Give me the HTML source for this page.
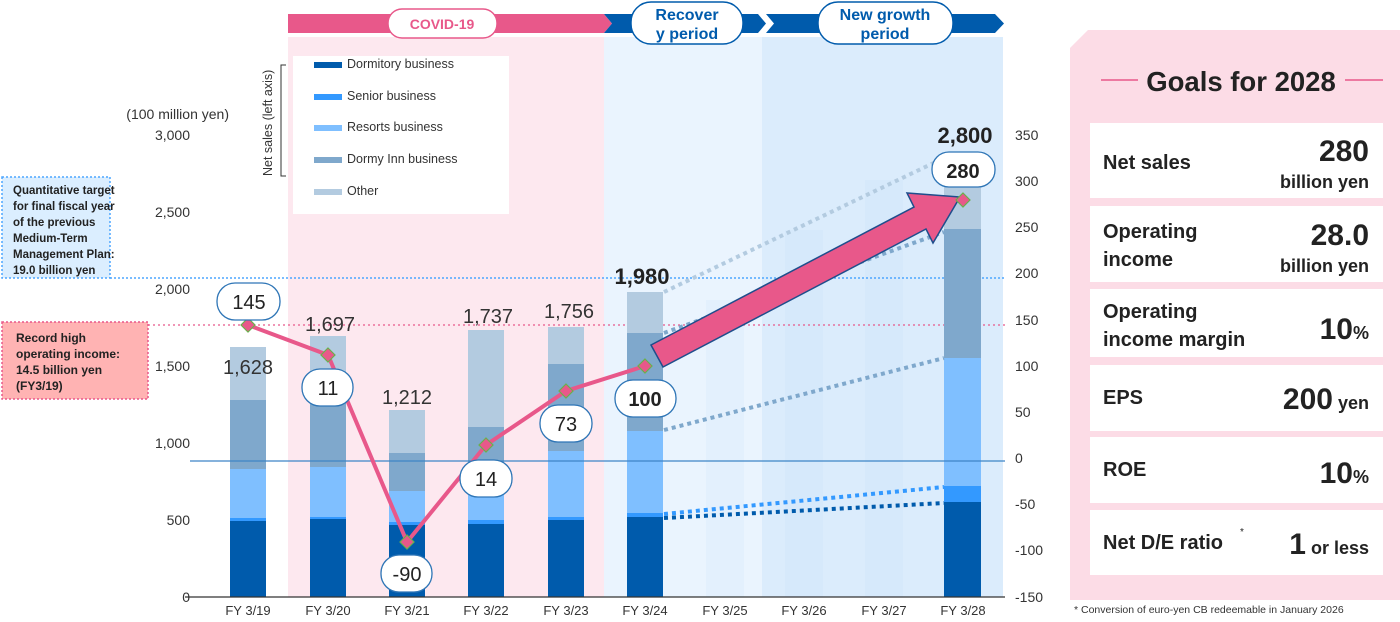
<!DOCTYPE html>
<html><head><meta charset="utf-8"><style>
html,body{margin:0;padding:0;background:#fff;}
svg{display:block;font-family:"Liberation Sans",sans-serif;}
</style></head><body>
<svg width="1400" height="622" viewBox="0 0 1400 622" xmlns="http://www.w3.org/2000/svg">
<rect x="288" y="37" width="316" height="560" fill="#fde8ef"/>
<rect x="604" y="37" width="158" height="560" fill="#eaf4fe"/>
<rect x="762" y="37" width="241" height="560" fill="#dbecfc"/>
<rect x="706" y="300" width="38" height="297" fill="#e3f0fd"/>
<rect x="785" y="230" width="38" height="367" fill="#d6e9fb"/>
<rect x="865" y="180" width="38" height="417" fill="#d6e9fb"/>
<polygon points="288,14 604,14 612,23.5 604,33 288,33" fill="#e8588a"/>
<polygon points="604,14 758,14 766,23.5 758,33 604,33 612,23.5" fill="#005bac"/>
<polygon points="766,14 995,14 1004,23.5 995,33 766,33 774,23.5" fill="#005bac"/>
<rect x="388" y="9" width="109" height="29" rx="14" fill="#fff" stroke="#e8588a" stroke-width="1.5"/>
<text x="442" y="29" text-anchor="middle" font-size="14" font-weight="bold" fill="#e8588a">COVID-19</text>
<rect x="631" y="2" width="112" height="42" rx="20" fill="#fff" stroke="#005bac" stroke-width="1.5"/>
<text x="687" y="20" text-anchor="middle" font-size="16" font-weight="bold" fill="#005bac">Recover</text>
<text x="687" y="39" text-anchor="middle" font-size="16" font-weight="bold" fill="#005bac">y period</text>
<rect x="818" y="2" width="135" height="42" rx="20" fill="#fff" stroke="#005bac" stroke-width="1.5"/>
<text x="885" y="20" text-anchor="middle" font-size="16" font-weight="bold" fill="#005bac">New growth</text>
<text x="885" y="39" text-anchor="middle" font-size="16" font-weight="bold" fill="#005bac">period</text>
<rect x="293" y="56" width="216" height="158" fill="#fff"/>
<g font-size="12.5" fill="#333">
<rect x="314" y="62" width="28" height="6" fill="#005bac"/><text x="347" y="68">Dormitory business</text>
<rect x="314" y="94" width="28" height="6" fill="#3399ff"/><text x="347" y="100">Senior business</text>
<rect x="314" y="125" width="28" height="6" fill="#7fbfff"/><text x="347" y="131">Resorts business</text>
<rect x="314" y="157" width="28" height="6" fill="#7fa8cc"/><text x="347" y="163">Dormy Inn business</text>
<rect x="314" y="189" width="28" height="6" fill="#b3cbe0"/><text x="347" y="195">Other</text>
</g>
<path d="M286,65 H281 V176 H286" fill="none" stroke="#333" stroke-width="1"/>
<text transform="translate(272,176) rotate(-90)" font-size="12.5" fill="#333">Net sales (left axis)</text>
<g font-size="14" fill="#333" text-anchor="end">
<text x="229" y="119">(100 million yen)</text>
<text x="190" y="140">3,000</text><text x="190" y="217">2,500</text><text x="190" y="294">2,000</text>
<text x="190" y="371">1,500</text><text x="190" y="448">1,000</text><text x="190" y="525">500</text><text x="190" y="602">0</text>
</g>
<g font-size="14" fill="#333" text-anchor="start">
<text x="1015" y="140">350</text><text x="1015" y="186">300</text><text x="1015" y="232">250</text><text x="1015" y="278">200</text>
<text x="1015" y="325">150</text><text x="1015" y="371">100</text><text x="1015" y="417">50</text><text x="1015" y="463">0</text>
<text x="1015" y="509">-50</text><text x="1015" y="555">-100</text><text x="1015" y="602">-150</text>
</g>
<rect x="2" y="177" width="108" height="101" fill="#dbeeff" stroke="#4da6ff" stroke-width="1.5" stroke-dasharray="2,2"/>
<g font-size="11.5" font-weight="bold" fill="#222">
<text x="13" y="194">Quantitative target</text><text x="13" y="210">for final fiscal year</text>
<text x="13" y="226">of the previous</text><text x="13" y="242">Medium-Term</text>
<text x="13" y="258">Management Plan:</text><text x="13" y="274">19.0 billion yen</text>
</g>
<rect x="2" y="322" width="146" height="77" fill="#ffb3b3" stroke="#e8588a" stroke-width="1.5" stroke-dasharray="2,2"/>
<g font-size="12" font-weight="bold" fill="#222">
<text x="16" y="342">Record high</text><text x="16" y="358">operating income:</text>
<text x="16" y="374">14.5 billion yen</text><text x="16" y="390">(FY3/19)</text>
</g>
<line x1="110" y1="278" x2="1005" y2="278" stroke="#4da6ff" stroke-width="1.5" stroke-dasharray="2,2"/>
<line x1="148" y1="325" x2="1005" y2="325" stroke="#e8588a" stroke-width="1.2" stroke-dasharray="2,3"/>
<g>
<rect x="230" y="347" width="36" height="250" fill="#b3cbe0"/><rect x="230" y="400" width="36" height="197" fill="#7fa8cc"/><rect x="230" y="469" width="36" height="128" fill="#7fbfff"/><rect x="230" y="518" width="36" height="79" fill="#3399ff"/><rect x="230" y="521" width="36" height="76" fill="#005bac"/>
<rect x="310" y="336" width="36" height="261" fill="#b3cbe0"/><rect x="310" y="383" width="36" height="214" fill="#7fa8cc"/><rect x="310" y="467" width="36" height="130" fill="#7fbfff"/><rect x="310" y="517" width="36" height="80" fill="#3399ff"/><rect x="310" y="519" width="36" height="78" fill="#005bac"/>
<rect x="389" y="410" width="36" height="187" fill="#b3cbe0"/><rect x="389" y="453" width="36" height="144" fill="#7fa8cc"/><rect x="389" y="491" width="36" height="106" fill="#7fbfff"/><rect x="389" y="522" width="36" height="75" fill="#3399ff"/><rect x="389" y="525" width="36" height="72" fill="#005bac"/>
<rect x="468" y="330" width="36" height="267" fill="#b3cbe0"/><rect x="468" y="427" width="36" height="170" fill="#7fa8cc"/><rect x="468" y="475" width="36" height="122" fill="#7fbfff"/><rect x="468" y="520" width="36" height="77" fill="#3399ff"/><rect x="468" y="524" width="36" height="73" fill="#005bac"/>
<rect x="548" y="327" width="36" height="270" fill="#b3cbe0"/><rect x="548" y="364" width="36" height="233" fill="#7fa8cc"/><rect x="548" y="451" width="36" height="146" fill="#7fbfff"/><rect x="548" y="517" width="36" height="80" fill="#3399ff"/><rect x="548" y="520" width="36" height="77" fill="#005bac"/>
<rect x="627" y="292" width="36" height="305" fill="#b3cbe0"/><rect x="627" y="333" width="36" height="264" fill="#7fa8cc"/><rect x="627" y="431" width="36" height="166" fill="#7fbfff"/><rect x="627" y="513" width="36" height="84" fill="#3399ff"/><rect x="627" y="517" width="36" height="80" fill="#005bac"/>
<rect x="944" y="166" width="37" height="431" fill="#b3cbe0"/><rect x="944" y="229" width="37" height="368" fill="#7fa8cc"/><rect x="944" y="358" width="37" height="239" fill="#7fbfff"/><rect x="944" y="486" width="37" height="111" fill="#3399ff"/><rect x="944" y="502" width="37" height="95" fill="#005bac"/>
</g>
<g stroke-width="4" stroke-dasharray="4,4" fill="none">
<line x1="664" y1="292" x2="944" y2="158" stroke="#b3cbe0"/>
<line x1="664" y1="333" x2="944" y2="232" stroke="#7fa8cc"/>
<line x1="664" y1="430" x2="944" y2="358" stroke="#7fa8cc"/>
<line x1="664" y1="514" x2="944" y2="487" stroke="#3399ff"/>
<line x1="664" y1="518" x2="944" y2="503" stroke="#005bac"/>
</g>
<line x1="190" y1="461" x2="1005" y2="461" stroke="#3d85c6" stroke-width="1.2"/>
<line x1="185" y1="597" x2="1005" y2="597" stroke="#333" stroke-width="1.2"/>
<g font-size="13" fill="#333" text-anchor="middle">
<text x="248" y="615">FY 3/19</text><text x="328" y="615">FY 3/20</text><text x="407" y="615">FY 3/21</text><text x="486" y="615">FY 3/22</text><text x="566" y="615">FY 3/23</text>
<text x="645" y="615">FY 3/24</text><text x="725" y="615">FY 3/25</text><text x="804" y="615">FY 3/26</text><text x="884" y="615">FY 3/27</text><text x="963" y="615">FY 3/28</text>
</g>
<polyline points="248,325 328,355 407,542 486,445 566,391 645,366" fill="none" stroke="#e8588a" stroke-width="4"/>
<polygon points="651,345 914,207 907,193 960,197 933,243 926,229 663,367" fill="#e8588a" stroke="#1f4e8c" stroke-width="1.5"/>
<g fill="#e8588a" stroke="#6ab04c" stroke-width="1.2">
<polygon points="248,318 255,325 248,332 241,325"/><polygon points="328,348 335,355 328,362 321,355"/>
<polygon points="407,535 414,542 407,549 400,542"/><polygon points="486,438 493,445 486,452 479,445"/>
<polygon points="566,384 573,391 566,398 559,391"/><polygon points="645,359 652,366 645,373 638,366"/>
<polygon points="963,193 970,200 963,207 956,200"/>
</g>
<g fill="#fff" stroke="#2e75b6" stroke-width="1.3">
<rect x="217" y="283" width="63" height="37" rx="18"/><rect x="302" y="369" width="51" height="37" rx="18"/>
<rect x="381" y="555" width="51" height="37" rx="18"/><rect x="460" y="460" width="52" height="37" rx="18"/>
<rect x="540" y="405" width="52" height="37" rx="18"/><rect x="615" y="380" width="61" height="37" rx="18"/>
<rect x="932" y="152" width="63" height="35" rx="17"/>
</g>
<g font-size="20" fill="#222" text-anchor="middle">
<text x="249" y="309">145</text><text x="328" y="395">11</text><text x="407" y="581">-90</text>
<text x="486" y="486">14</text><text x="566" y="431">73</text>
<text x="645" y="406" font-weight="bold">100</text><text x="963" y="178" font-weight="bold">280</text>
</g>
<g font-size="20" fill="#333" text-anchor="middle">
<text x="248" y="374">1,628</text><text x="330" y="331">1,697</text><text x="407" y="404">1,212</text>
<text x="488" y="323">1,737</text><text x="569" y="318">1,756</text>
<text x="642" y="284" font-weight="bold" font-size="22" fill="#222">1,980</text>
<text x="965" y="143" font-weight="bold" font-size="22" fill="#222">2,800</text>
</g>
<polygon points="1088,30 1400,30 1400,600 1070,600 1070,48" fill="#fcdce6"/>
<line x1="1101" y1="80" x2="1138" y2="80" stroke="#e8588a" stroke-width="1.5"/>
<line x1="1345" y1="80" x2="1383" y2="80" stroke="#e8588a" stroke-width="1.5"/>
<text x="1241" y="91" text-anchor="middle" font-size="27.5" font-weight="bold" fill="#222">Goals for 2028</text>
<g fill="#fff">
<rect x="1090" y="123" width="293" height="75"/><rect x="1090" y="206" width="293" height="76"/>
<rect x="1090" y="289" width="293" height="68"/><rect x="1090" y="365" width="293" height="66"/>
<rect x="1090" y="437" width="293" height="66"/><rect x="1090" y="510" width="293" height="65"/>
</g>
<g font-size="20" font-weight="bold" fill="#222">
<text x="1103" y="169">Net sales</text>
<text x="1103" y="238">Operating</text><text x="1103" y="266">income</text>
<text x="1103" y="318">Operating</text><text x="1103" y="346">income margin</text>
<text x="1103" y="404">EPS</text><text x="1103" y="476">ROE</text>
<text x="1103" y="549">Net D/E ratio</text><text x="1240" y="535" font-size="10" font-weight="normal">*</text>
</g>
<g font-weight="bold" fill="#222" text-anchor="end">
<text x="1369" y="161" font-size="30">280</text><text x="1369" y="188" font-size="18">billion yen</text>
<text x="1369" y="245" font-size="30">28.0</text><text x="1369" y="272" font-size="18">billion yen</text>
<text x="1369" y="339"><tspan font-size="30">10</tspan><tspan font-size="18">%</tspan></text>
<text x="1369" y="409"><tspan font-size="30">200</tspan><tspan font-size="18"> yen</tspan></text>
<text x="1369" y="483"><tspan font-size="30">10</tspan><tspan font-size="18">%</tspan></text>
<text x="1369" y="554"><tspan font-size="30">1</tspan><tspan font-size="18"> or less</tspan></text>
</g>
<text x="1074" y="613" font-size="10.5" fill="#333">* Conversion of euro-yen CB redeemable in January 2026</text>
</svg>
</body></html>
